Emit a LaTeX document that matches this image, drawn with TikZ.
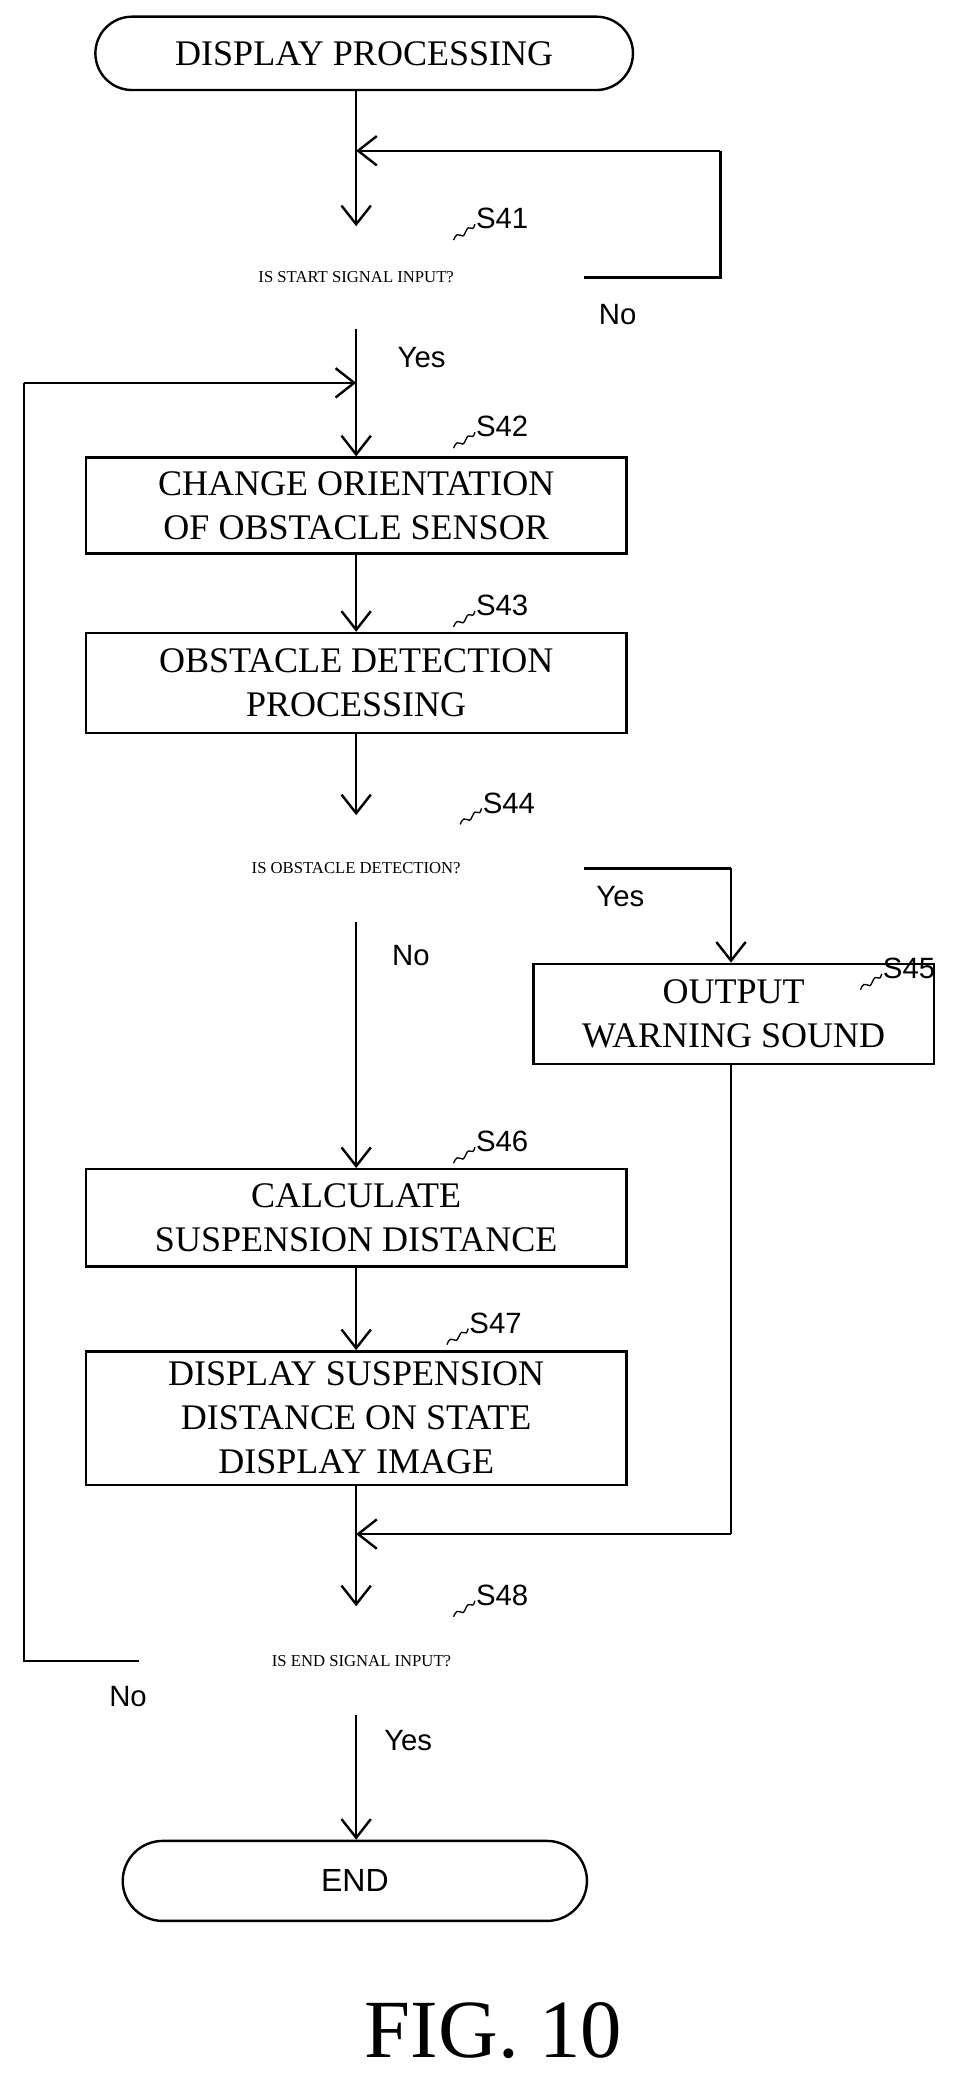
\documentclass[tikz,border=0pt]{standalone}
\usepackage{fontspec}
\setmainfont{Liberation Serif}
\newfontfamily\lab{Liberation Sans}
\usetikzlibrary{shapes.geometric,shapes.misc,arrows.meta}
\begin{document}
\begin{tikzpicture}[x=1pt,y=-1pt,
  line width=1.8pt,
  box/.style={draw,rectangle,align=center,font=\fontsize{27}{33}\selectfont,inner sep=0},
  dia/.style={rectangle,inner sep=0,font=\fontsize{12.5}{14}\selectfont,
    append after command={\pgfextra{\let\mn\tikzlastnode}
      (\mn.north) edge[draw=none] (\mn.south)
      [draw] (\mn.north) -- (\mn.east) -- (\mn.south) -- (\mn.west) -- cycle}},
  term/.style={draw,rounded rectangle,inner sep=0},
  arr/.style={-{Straight Barb[length=14pt,width=22pt,line width=1.8pt]}},
  lbl/.style={font=\lab\fontsize{22}{24}\selectfont,inner sep=0}]
\useasboundingbox (0,0) rectangle (725,1563);
\newcommand{\stp}[3]{\draw[line width=1pt] (#1,#2) .. controls (#1+4,#2-10) and (#1+6,#2+2) .. (#1+9,#2-6) .. controls (#1+12,#2-14) and (#1+14,#2-4) .. (#1+16,#2-12);
 \node[lbl,anchor=west] at (#1+16,#2-16) {#3};}
% nodes
\node[term,minimum width=403pt,minimum height=55pt,font=\fontsize{27}{30}\selectfont] (t0) at (273,40) {DISPLAY PROCESSING};
\node[dia,minimum width=340pt,minimum height=75pt] (d41) at (267,208) {IS START SIGNAL INPUT?};
\node[box,minimum width=405pt,minimum height=72pt] (s42) at (267,379) {CHANGE ORIENTATION\\OF OBSTACLE SENSOR};
\node[box,minimum width=405pt,minimum height=75pt] (s43) at (267,512) {OBSTACLE DETECTION\\PROCESSING};
\node[dia,minimum width=340pt,minimum height=78pt] (d44) at (267,651) {IS OBSTACLE DETECTION?};
\node[box,minimum width=300pt,minimum height=75pt] (s45) at (550,760) {OUTPUT\\WARNING SOUND};
\node[box,minimum width=405pt,minimum height=73pt] (s46) at (267,913) {CALCULATE\\SUSPENSION DISTANCE};
\node[box,minimum width=405pt,minimum height=100pt] (s47) at (267,1063) {DISPLAY SUSPENSION\\DISTANCE ON STATE\\DISPLAY IMAGE};
\node[dia,minimum width=332pt,minimum height=80pt] (d48) at (271,1245) {IS END SIGNAL INPUT?};
\node[term,minimum width=348pt,minimum height=60pt,font=\lab\fontsize{24}{26}\selectfont] (t1) at (266,1410) {END};
\node[font=\fontsize{62}{64}\selectfont] (fig) at (370,1522) {FIG. 10};
% coordinates
\coordinate (j41) at (267,113);
\coordinate (r41) at (540,113);
\coordinate (j42) at (267,287);
\coordinate (l42) at (18,287);
\coordinate (l48) at (18,1245);
\coordinate (r44) at (548,651);
\coordinate (j48) at (267,1150);
\coordinate (r45) at (548,1150);
% connectors
\draw (t0.south -| j41) -- (j41);
\draw[arr] (j41) -- (d41.north);
\draw (d41.east) -| (r41);
\draw[arr] (r41) -- (j41);
\draw (d41.south) -- (j42);
\draw[arr] (j42) -- (s42.north);
\draw (d48.west) -- (l48) -- (l42);
\draw[arr] (l42) -- (j42);
\draw[arr] (s42.south) -- (s43.north);
\draw[arr] (s43.south) -- (d44.north);
\draw (d44.east) -- (r44);
\draw[arr] (r44) -- (s45.north -| r44);
\draw[arr] (d44.south) -- (s46.north);
\draw[arr] (s46.south) -- (s47.north);
\draw (s45.south -| r45) -- (r45);
\draw[arr] (r45) -- (j48);
\draw (s47.south) -- (j48);
\draw[arr] (j48) -- (d48.north -| j48);
\draw[arr] (d48.south -| j48) -- (t1.north -| j48);
% labels
\node[lbl] at (463,236) {No};
\node[lbl] at (316,268) {Yes};
\node[lbl] at (465,672) {Yes};
\node[lbl] at (308,716) {No};
\node[lbl] at (96,1272) {No};
\node[lbl] at (306,1305) {Yes};
\stp{340}{180}{S41}
\stp{340}{336}{S42}
\stp{340}{470}{S43}
\stp{345}{618}{S44}
\stp{645}{742}{S45}
\stp{340}{872}{S46}
\stp{335}{1008}{S47}
\stp{340}{1212}{S48}
\end{tikzpicture}
\end{document}
